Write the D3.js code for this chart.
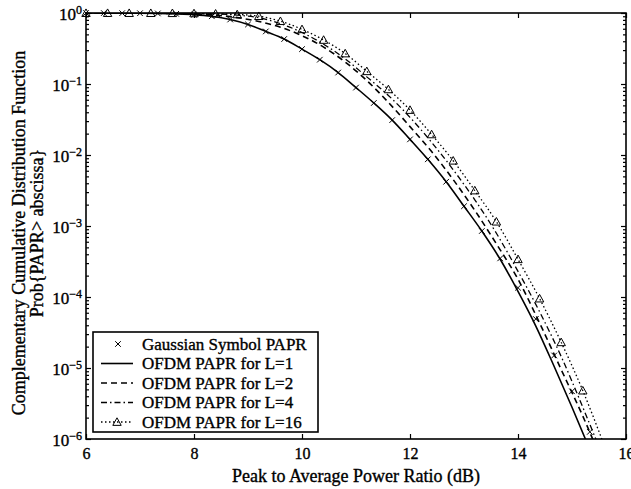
<!DOCTYPE html>
<meta charset="utf-8">
<script src="https://d3js.org/d3.v7.min.js"></script>
<style>
  body { margin: 0; background: #fff; }
  text { font-family: 'Liberation Serif', 'Times New Roman', serif; fill: #000; stroke: #000; stroke-width: 0.35px; }
</style>
<body>
<div id="chart"></div>
<script>
// tick values
var xTicks = [6, 8, 10, 12, 14, 16];
var yExps = [0, -1, -2, -3, -4, -5, -6];

var legendNames = ["Gaussian Symbol PAPR", "OFDM PAPR for L=1", "OFDM PAPR for L=2",
                   "OFDM PAPR for L=4", "OFDM PAPR for L=16"];

// Gaussian symbol PAPR (markers every 1/3 dB)
var gaussX = [6, 6.33, 6.67, 7, 7.33, 7.67, 8, 8.33, 8.67, 9, 9.33, 9.67, 10, 10.33, 10.67,
              11, 11.33, 11.67, 12, 12.33, 12.67, 13, 13.33, 13.67, 14, 14.33, 14.67, 15, 15.33];
var gaussP = [0.998, 0.998, 0.995, 0.993, 0.986, 0.973, 0.95, 0.90, 0.81, 0.69, 0.55, 0.43, 0.31, 0.22, 0.145,
              0.089, 0.054, 0.031, 0.0166, 8.7e-3, 4.2e-3, 1.9e-3, 8.5e-4, 3.5e-4, 1.35e-4, 4.9e-5, 1.5e-5, 4.7e-6, 1.26e-6];

// OFDM L=1
var ofdm1X = [6, 6.33, 6.67, 7, 7.33, 7.67, 8, 8.33, 8.67, 9, 9.33, 9.67, 10, 10.33, 10.67,
              11, 11.33, 11.67, 12, 12.33, 12.67, 13, 13.33, 13.67, 14, 14.33, 14.67, 15, 15.33];
var ofdm1P = [0.998, 0.998, 0.995, 0.993, 0.986, 0.973, 0.95, 0.90, 0.81, 0.69, 0.55, 0.43, 0.31, 0.22, 0.145,
              0.089, 0.054, 0.031, 0.0166, 8.7e-3, 4.2e-3, 1.9e-3, 8.5e-4, 3.4e-4, 1.2e-4, 3.9e-5, 1.05e-5, 2.8e-6, 7.1e-7];

// OFDM L=2, 4, 16 (every 0.4 dB)
var ofdmX = [6, 6.4, 6.8, 7.2, 7.6, 8, 8.4, 8.8, 9.2, 9.6, 10, 10.4, 10.8, 11.2, 11.6,
             12, 12.4, 12.8, 13.2, 13.6, 14, 14.4, 14.8, 15.2, 15.6];
var ofdm2P = [0.995, 0.995, 0.993, 0.991, 0.984, 0.973, 0.933, 0.861, 0.759, 0.631, 0.479, 0.331, 0.204, 0.112, 0.055,
              0.0251, 0.0112, 4.5e-3, 1.66e-3, 5.6e-4, 1.78e-4, 4.3e-5, 9.5e-6, 2.1e-6, 4e-7];
var ofdm4P = [0.996, 0.996, 0.995, 0.994, 0.991, 0.982, 0.968, 0.933, 0.861, 0.708, 0.531, 0.363, 0.226, 0.126, 0.069,
              0.0339, 0.0151, 6.2e-3, 2.34e-3, 7.9e-4, 2.3e-4, 6.2e-5, 1.45e-5, 2.8e-6, 5e-7];
var ofdm16P = [0.996, 0.996, 0.996, 0.995, 0.993, 0.986, 0.977, 0.955, 0.902, 0.767, 0.589, 0.417, 0.269, 0.151, 0.084,
               0.043, 0.0195, 8.3e-3, 3.16e-3, 1.15e-3, 3.4e-4, 9.5e-5, 2.3e-5, 4.8e-6, 8e-7];

var W = 631, H = 489;
var margin = {top: 13, right: 5, bottom: 50, left: 86};
var width = W - margin.left - margin.right,
    height = H - margin.top - margin.bottom;

var svg = d3.select("#chart").append("svg")
    .attr("width", W).attr("height", H);
var g = svg.append("g")
    .attr("transform", "translate(" + margin.left + "," + margin.top + ")");

var x = d3.scaleLinear().domain([6, 16]).range([0, width]);
var y = d3.scaleLog().domain([1e-6, 1]).range([height, 0]);

svg.append("defs").append("clipPath").attr("id", "clip")
  .append("rect").attr("width", width).attr("height", height);

// minor log ticks
var minor = [];
yExps.slice(1).forEach(function(e) {
  for (var k = 2; k <= 9; k++) minor.push(k * Math.pow(10, e));
});
var majors = yExps.map(function(e) { return Math.pow(10, e); });

function tidy(sel) {
  sel.select(".domain").remove();
  sel.selectAll("line").attr("stroke", "#000").attr("stroke-width", 1.2);
}

// x axis bottom / top
g.append("g").attr("transform", "translate(0," + height + ")")
  .call(d3.axisBottom(x).tickValues(xTicks).tickSize(-5).tickPadding(9).tickFormat(d3.format("d")))
  .call(tidy)
  .selectAll("text").style("font-size", "16px").attr("font-family", null).attr("fill", null);
g.append("g")
  .call(d3.axisTop(x).tickValues(xTicks).tickSize(-5).tickFormat(""))
  .call(tidy);

// y axis left / right (major + minor)
var yl = g.append("g")
  .call(d3.axisLeft(y).tickValues(majors).tickSize(-5).tickPadding(5).tickFormat(""))
  .call(tidy);
g.append("g").call(d3.axisLeft(y).tickValues(minor).tickSize(-3).tickFormat("")).call(tidy);
g.append("g").attr("transform", "translate(" + width + ",0)")
  .call(d3.axisRight(y).tickValues(majors).tickSize(-5).tickFormat("")).call(tidy);
g.append("g").attr("transform", "translate(" + width + ",0)")
  .call(d3.axisRight(y).tickValues(minor).tickSize(-3).tickFormat("")).call(tidy);

// superscript labels
yl.selectAll(".tick").each(function(d) {
  var e = Math.round(Math.log10(d));
  var t = d3.select(this).select("text")
    .attr("x", -4).attr("dy", "0.38em").attr("text-anchor", "end")
    .attr("fill", null)
    .style("font-size", "17px").attr("font-family", null);
  t.text("");
  t.append("tspan").text("10");
  t.append("tspan").attr("dy", "-0.5em").style("font-size", "12px")
    .text(e === 0 ? "0" : "\u2212" + (-e));
});

// frame
g.append("rect").attr("width", width).attr("height", height)
  .attr("fill", "none").attr("stroke", "#000").attr("stroke-width", 1.6);

// series
var series = [
  {xs: ofdm1X, ps: ofdm1P, dash: null, w: 1.6},
  {xs: ofdmX, ps: ofdm2P, dash: "6,4", w: 1.6},
  {xs: ofdmX, ps: ofdm4P, dash: "6,3,1.5,3", w: 1.3},
  {xs: ofdmX, ps: ofdm16P, dash: "1.5,2.5", w: 1.3}
];
var line = d3.line()
  .x(function(d) { return x(d[0]); })
  .y(function(d) { return y(d[1]); })
  .curve(d3.curveMonotoneX);

var plot = g.append("g").attr("clip-path", "url(#clip)");
series.forEach(function(s) {
  var pts = s.xs.map(function(v, i) { return [v, s.ps[i]]; });
  plot.append("path").datum(pts)
    .attr("fill", "none").attr("stroke", "#000")
    .attr("stroke-width", s.w)
    .attr("stroke-dasharray", s.dash)
    .attr("d", line);
});

function xMark(sel, cx, cy, r) {
  sel.append("path")
    .attr("d", "M" + (cx - r) + "," + (cy - r) + "L" + (cx + r) + "," + (cy + r) +
               "M" + (cx - r) + "," + (cy + r) + "L" + (cx + r) + "," + (cy - r))
    .attr("stroke", "#000").attr("stroke-width", 1).attr("fill", "none");
}
function triMark(sel, cx, cy, r) {
  sel.append("path")
    .attr("d", "M" + cx + "," + (cy - r) + "L" + (cx + r) + "," + (cy + r * 0.8) +
               "L" + (cx - r) + "," + (cy + r * 0.8) + "Z")
    .attr("stroke", "#000").attr("stroke-width", 1).attr("fill", "none");
}

var marks = g.append("g");
gaussX.forEach(function(v, i) {
  if (gaussP[i] >= 1e-6) xMark(marks, x(v), y(gaussP[i]), 2.8);
});
ofdmX.forEach(function(v, i) {
  if (ofdm16P[i] >= 1e-6) triMark(marks, x(v), y(ofdm16P[i]), 4.2);
});

// legend
var lg = g.append("g").attr("transform", "translate(7," + 319 + ")");
lg.append("rect").attr("width", 225).attr("height", 100)
  .attr("fill", "#fff").attr("stroke", "#000").attr("stroke-width", 1.6);
var styles = [null, {dash: null, w: 1.6}, {dash: "6,4", w: 1.6}, {dash: "6,3,1.5,3", w: 1.3}, {dash: "1.5,2.5", w: 1.3}];
legendNames.forEach(function(name, i) {
  var ry = 12 + i * 19.5;
  if (i === 0) {
    xMark(lg, 25, ry, 2.8);
  } else {
    lg.append("line").attr("x1", 8).attr("x2", 40).attr("y1", ry).attr("y2", ry)
      .attr("stroke", "#000").attr("stroke-width", styles[i].w)
      .attr("stroke-dasharray", styles[i].dash);
    if (i === 4) triMark(lg, 24, ry, 4.2);
  }
  lg.append("text").attr("x", 49).attr("y", ry).attr("dy", "0.35em")
    .style("font-size", "17px").text(name);
});

// axis titles
svg.append("text")
  .attr("x", margin.left + width / 2).attr("y", 482)
  .attr("text-anchor", "middle").style("font-size", "18px")
  .text("Peak to Average Power Ratio (dB)");

svg.append("text")
  .attr("transform", "translate(25,233) rotate(-90)")
  .attr("text-anchor", "middle").style("font-size", "18px")
  .text("Complementary Cumulative Distribution Function");
svg.append("text")
  .attr("transform", "translate(43,233) rotate(-90)")
  .attr("text-anchor", "middle").style("font-size", "18px")
  .text("Prob{PAPR> abscissa}");
</script>
</body>
